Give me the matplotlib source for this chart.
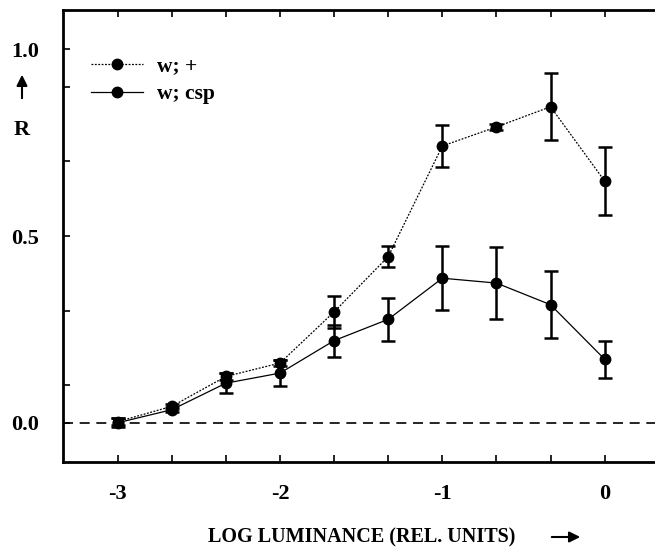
import matplotlib
matplotlib.use('Agg')
import matplotlib.pyplot as plt
from matplotlib.lines import Line2D
from matplotlib.patches import FancyArrowPatch

# log luminance steps (1/3 log unit)
log_lum = [-3, -8/3, -7/3, -2, -5/3, -4/3, -1, -2/3, -1/3, 0]

# w; + (dotted)
r_wt = [0.003, 0.044, 0.124, 0.160, 0.297, 0.445, 0.741, 0.792, 0.846, 0.647]
err_wt = [0.010, 0.006, 0.010, 0.008, 0.042, 0.027, 0.055, 0.008, 0.090, 0.092]

# w; csp (solid)
r_csp = [0.000, 0.035, 0.106, 0.133, 0.220, 0.277, 0.387, 0.374, 0.316, 0.170]
err_csp = [0.012, 0.006, 0.027, 0.034, 0.043, 0.057, 0.085, 0.097, 0.090, 0.050]

plt.rcParams['font.family'] = ['Liberation Serif', 'DejaVu Serif']
plt.rcParams['font.weight'] = 'bold'

fig = plt.figure(figsize=(6.55, 5.5), dpi=100)
ax = fig.add_axes([63/655, 88/550, 1 - 63/655, 452/550])

ax.axhline(0, color='black', lw=1.2, ls=(0, (6, 4)), zorder=1)

dotted = (0, (1.5, 1.2))
ax.errorbar(log_lum, r_wt, yerr=err_wt, fmt='o', color='black', ms=7.5,
            ls=dotted, lw=0.9, elinewidth=1.8, capsize=5, capthick=1.8)
ax.errorbar(log_lum, r_csp, yerr=err_csp, fmt='o', color='black', ms=7.5,
            ls='-', lw=0.9, elinewidth=1.8, capsize=5, capthick=1.8)

ax.set_xlim(-3.337, 0.31)
ax.set_ylim(-0.105, 1.105)

ax.set_xticks(log_lum)
ax.set_xticklabels(['-3', '', '', '-2', '', '', '-1', '', '', '0'])
ax.set_yticks([0.0, 0.5, 1.0])
ax.set_yticklabels(['0.0', '0.5', '1.0'])
ax.set_yticks([0.1, 0.3, 0.7, 0.9], minor=True)

ax.tick_params(axis='both', which='both', direction='in', length=5, width=1.2,
               labelsize=16)
ax.tick_params(axis='x', top=True, pad=16)
ax.tick_params(axis='y', pad=17)

ax.spines['right'].set_visible(False)
for s in ['left', 'bottom', 'top']:
    ax.spines[s].set_linewidth(2)

handles = [Line2D([], [], color='black', ls=dotted, lw=0.9, marker='o', ms=7.5),
           Line2D([], [], color='black', ls='-', lw=0.9, marker='o', ms=7.5)]
ax.legend(handles, ['w; +', 'w; csp'], loc='upper left',
          bbox_to_anchor=(0.015, 0.94), frameon=False, fontsize=15.5,
          handlelength=2.4, handletextpad=0.65, labelspacing=0.35)

# y label: arrow and R
fig.text(22/655, 1 - 130/550, 'R', ha='center', va='center', fontsize=16,
         fontweight='bold')
fig.add_artist(FancyArrowPatch(
    (22/655, 1 - 101/550), (22/655, 1 - 72/550), transform=fig.transFigure,
    arrowstyle='-|>', mutation_scale=16, color='black', lw=1.5))

# x label and arrow
fig.text(362/655, 1 - 537/550, 'LOG LUMINANCE (REL. UNITS)', ha='center',
         va='center', fontsize=14.5, fontweight='bold')
fig.add_artist(FancyArrowPatch(
    (549/655, 1 - 537/550), (583/655, 1 - 537/550), transform=fig.transFigure,
    arrowstyle='-|>', mutation_scale=16, color='black', lw=1.5))

fig.savefig('out.png', dpi=100)
